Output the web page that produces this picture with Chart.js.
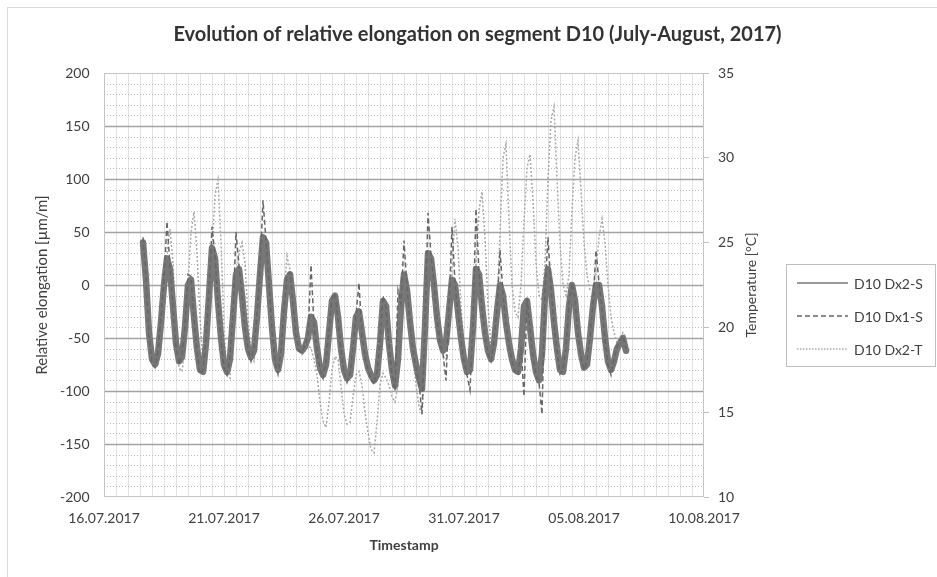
<!DOCTYPE html>
<html>
<head>
<meta charset="utf-8">
<script src="https://cdn.jsdelivr.net/npm/chart.js@4.4.0/dist/chart.umd.min.js"></script>
<style>
  html, body { margin: 0; padding: 0; background: #fff; overflow: hidden; }
  #wrap { position: relative; width: 937px; height: 577px; overflow: hidden; font-family: Lato, "Open Sans", sans-serif; }
  #frame { position: absolute; left: 7px; top: 7px; width: 2000px; height: 2000px; border: 1px solid #d9d9d9; box-sizing: border-box; }
  canvas { position: absolute; left: 0; top: 0; }
  #legend { position: absolute; left: 786px; top: 264px; width: 150px; height: 103px; border: 1px solid #bfbfbf; box-sizing: border-box; background: #fff; }
  .li { position: absolute; left: 10px; height: 16px; display: flex; align-items: center; font-size: 14px; color: #404040; white-space: nowrap; }
  .li svg { margin-right: 6px; }
  #rtitle { position: absolute; left: 750px; top: 285px; transform: translate(-50%, -50%) rotate(-90deg); font-size: 14px; color: #404040; white-space: nowrap; }
</style>
</head>
<body>
<div id="wrap">
  <div id="frame"></div>
  <canvas id="c" width="937" height="577"></canvas>
  <div id="rtitle">Temperature [°C]</div>
  <div id="legend"></div>
</div>
<script>
// ---- data ----
const chartTitle = 'Evolution of relative elongation on segment D10 (July-August, 2017)';
const seriesNames = ['D10 Dx2-S', 'D10 Dx1-S', 'D10 Dx2-T'];
const xTickLabels = ['16.07.2017', '21.07.2017', '26.07.2017', '31.07.2017', '05.08.2017', '10.08.2017'];
// samples every 3 hours, first sample 17.07.2017 15:00 (days since 16.07.2017 00:00)
const firstSampleDay = 1.625;
const sampleStepDays = 0.125;

// relative elongation D10 Dx2-S [µm/m]
const dx2S = [
  40, 5, -45, -70, -75, -65, -35, 0,
  25, 15, -20, -55, -72, -68, -40, 0,
  5, -30, -60, -80, -82, -55, -10, 35,
  25, -15, -50, -75, -82, -70, -30, 10,
  15, -10, -40, -60, -68, -62, -30, 10,
  45, 40, 0, -40, -70, -80, -65, -25,
  5, 10, -15, -45, -60, -62, -58, -50,
  -30, -35, -60, -78, -85, -75, -45, -15,
  -10, -30, -60, -80, -88, -85, -60, -30,
  -25, -45, -65, -78, -85, -90, -85, -55,
  -15, -20, -55, -80, -95, -70, -20, 10,
  -5, -35, -60, -75, -88, -98, -40, 30,
  25, 0, -30, -52, -62, -55, -25, 5,
  0, -25, -50, -70, -82, -80, -40, 15,
  10, -20, -45, -62, -70, -55, -25, 0,
  -10, -35, -55, -70, -80, -82, -60, -20,
  -15, -40, -65, -82, -90, -65, -10, 15,
  -5, -35, -60, -80, -82, -60, -20, 0,
  -15, -45, -65, -78, -75, -50, -20, 0,
  0, -20, -50, -72, -80, -72, -60, -55,
  -50, -62
];

// relative elongation D10 Dx1-S [µm/m]
const dx1S = [
  45, 8, -48, -74, -78, -62, -30, 5,
  60, 18, -22, -58, -75, -66, -38, 10,
  8, -32, -62, -84, -80, -52, -5, 55,
  28, -18, -52, -78, -85, -68, -28, 50,
  18, -8, -42, -62, -72, -60, -28, 15,
  80, 42, 2, -42, -72, -84, -62, -22,
  10, 12, -18, -48, -62, -64, -56, -48,
  19, -38, -62, -80, -88, -72, -42, -12,
  -8, -32, -62, -82, -92, -84, -58, -28,
  2, -48, -68, -80, -88, -94, -82, -52,
  -10, -22, -58, -84, -100, -5, -18, 42,
  -2, -38, -62, -78, -92, -122, -35, 68,
  28, 2, -32, -55, -65, -90, -22, 55,
  2, -28, -52, -72, -85, -99, -38, 72,
  12, -22, -48, -65, -72, -52, -22, 33,
  -8, -38, -58, -72, -82, -85, -58, -105,
  -12, -42, -68, -85, -92, -122, -5, 45,
  -2, -38, -62, -84, -80, -58, -18, 2,
  -12, -48, -68, -80, -72, -48, -18, 33,
  2, -22, -52, -75, -85, -70, -58, -52,
  -48, -60
];

// temperature D10 Dx2-T [°C]
const dx2T = [
  23.1, 22.5, 20.6, 19.1, 18.1, 17.8, 19.1, 21.9,
  24.4, 25.8, 23.8, 20.0, 17.6, 17.4, 18.8, 22.5,
  25.6, 26.8, 24.4, 20.6, 17.8, 17.5, 20.0, 24.4,
  27.8, 28.7, 25.0, 20.0, 17.2, 17.0, 19.4, 22.5,
  24.4, 25.0, 23.8, 20.6, 18.4, 18.0, 19.4, 21.9,
  23.8, 24.7, 23.4, 20.6, 18.4, 17.5, 18.4, 21.9,
  24.2, 23.4, 21.9, 20.3, 19.1, 18.4, 18.6, 18.9,
  18.8, 18.1, 17.2, 15.6, 14.5, 14.1, 15.6, 17.5,
  18.3, 18.1, 16.6, 14.9, 14.3, 14.4, 15.9, 17.2,
  17.4, 16.6, 15.0, 13.8, 12.8, 12.6, 14.4, 16.6,
  17.3, 17.0, 16.6, 15.9, 15.6, 16.6, 19.4, 21.6,
  22.2, 20.6, 18.4, 16.6, 15.3, 14.9, 17.5, 21.9,
  23.8, 23.4, 21.3, 19.4, 18.3, 18.1, 20.0, 23.8,
  26.4, 24.7, 21.3, 18.8, 17.5, 17.2, 19.4, 23.8,
  26.9, 28.0, 25.3, 21.3, 18.8, 18.8, 20.9, 25.6,
  30.0, 30.8, 26.3, 22.5, 20.9, 20.6, 22.5, 26.3,
  29.4, 30.2, 27.5, 23.8, 21.9, 21.6, 23.8, 28.8,
  32.2, 33.0, 28.8, 25.0, 22.5, 21.9, 23.1, 26.9,
  30.0, 31.0, 28.1, 25.0, 23.1, 22.2, 22.2, 23.4,
  25.3, 26.4, 25.0, 22.5, 20.6, 19.7, 19.1, 19.4,
  19.7, 19.4
];

// ---- build chart ----
const sampleDays = dx2S.map((_, i) => firstSampleDay + i * sampleStepDays);
const toPoints = arr => arr.map((v, i) => ({ x: sampleDays[i], y: v }));

const FONT = 'Lato, "Open Sans", sans-serif';
const TXT = '#404040';

const excelGrid = {
  id: 'excelGrid',
  beforeDatasetsDraw(chart) {
    const { ctx, chartArea: { left, right, top, bottom }, scales: { x, y } } = chart;
    ctx.save();
    ctx.lineWidth = 1;
    ctx.strokeStyle = '#e2e2e2';
    for (let d = 0.5; d < 25; d += 0.5) {
      const px = Math.round(x.getPixelForValue(d)) + 0.5;
      ctx.beginPath(); ctx.moveTo(px, top); ctx.lineTo(px, bottom); ctx.stroke();
    }
    ctx.setLineDash([1, 2]);
    ctx.strokeStyle = '#b8b8b8';
    for (let v = -190; v < 200; v += 10) {
      if (v % 50 === 0) continue;
      const py = Math.round(y.getPixelForValue(v)) + 0.5;
      ctx.beginPath(); ctx.moveTo(left, py); ctx.lineTo(right, py); ctx.stroke();
    }
    ctx.setLineDash([]);
    ctx.strokeStyle = '#a3a3a3';
    ctx.lineWidth = 1.5;
    for (let v = -150; v <= 150; v += 50) {
      const py = Math.round(y.getPixelForValue(v)) + 0.5;
      ctx.beginPath(); ctx.moveTo(left, py); ctx.lineTo(right, py); ctx.stroke();
    }
    ctx.lineWidth = 1;
    ctx.strokeStyle = '#c4c4c4';
    ctx.strokeRect(left + 0.5, top + 0.5, right - left - 1, bottom - top - 1);
    ctx.restore();
  }
};

new Chart(document.getElementById('c'), {
  type: 'line',
  data: {
    datasets: [
      { label: seriesNames[1], data: toPoints(dx1S), yAxisID: 'y', order: 1,
        borderColor: '#666666', borderWidth: 1.5, borderDash: [5, 3], pointRadius: 0, tension: 0 },
      { label: seriesNames[0], data: toPoints(dx2S), yAxisID: 'y', order: 2,
        borderColor: '#777777', borderWidth: 6.5, borderJoinStyle: 'round', borderCapStyle: 'round', pointRadius: 0, tension: 0 },
      { label: seriesNames[2], data: toPoints(dx2T), yAxisID: 'y2', order: 3,
        borderColor: '#a8a8a8', borderWidth: 1.5, borderDash: [2, 2], pointRadius: 0, tension: 0 }
    ]
  },
  options: {
    responsive: false,
    animation: false,
    events: [],
    layout: { padding: { left: 18, right: 0, top: 0, bottom: 0 } },
    plugins: {
      legend: { display: false },
      tooltip: { enabled: false },
      title: {
        display: true, text: chartTitle, color: '#333333',
        font: { family: FONT, size: 20, weight: 'bold' },
        padding: { top: 23, bottom: 26 }
      }
    },
    scales: {
      x: {
        type: 'linear', min: 0, max: 25,
        grid: { display: false, drawTicks: false },
        border: { display: false },
        ticks: { stepSize: 5, maxRotation: 0, autoSkip: false, padding: 13, color: TXT,
                 font: { family: FONT, size: 14 },
                 callback: v => xTickLabels[Math.round(v / 5)] },
        title: { display: true, text: 'Timestamp', color: TXT, font: { family: FONT, size: 14, weight: 'bold' },
                 padding: { top: 0, bottom: 23.6 } },
        afterFit: s => { s.height = 80; }
      },
      y: {
        position: 'left', min: -200, max: 200,
        grid: { display: false, drawTicks: false },
        border: { display: false },
        ticks: { stepSize: 50, padding: 14.5, color: TXT, font: { family: FONT, size: 14 } },
        title: { display: true, text: 'Relative elongation [µm/m]', color: TXT, font: { family: FONT, size: 15 },
                 padding: { top: 15, bottom: 0 } },
        afterFit: s => { s.width = 86; }
      },
      y2: {
        position: 'right', min: 10, max: 35,
        grid: { display: true, drawOnChartArea: false, drawTicks: true, tickLength: 5, color: '#bfbfbf' },
        border: { display: false },
        ticks: { stepSize: 5, padding: 9, color: TXT, font: { family: FONT, size: 14 } },
        afterFit: s => { s.width = 233; }
      }
    }
  },
  plugins: [excelGrid]
});

// ---- legend (HTML) ----
const legendStyles = [
  { dash: '', color: '#777777', width: 1.5 },
  { dash: '5,3', color: '#666666', width: 1.5 },
  { dash: '1.5,1.5', color: '#a8a8a8', width: 1.5 }
];
const legendTops = [10, 43, 76];
const legend = document.getElementById('legend');
seriesNames.forEach((name, i) => {
  const st = legendStyles[i];
  const el = document.createElement('div');
  el.className = 'li';
  el.style.top = legendTops[i] + 'px';
  el.innerHTML = '<svg width="51" height="4"><line x1="0" y1="2" x2="51" y2="2" stroke="' + st.color +
    '" stroke-width="' + st.width + '"' + (st.dash ? ' stroke-dasharray="' + st.dash + '"' : '') + '/></svg>' +
    '<span>' + name + '</span>';
  legend.appendChild(el);
});
</script>
</body>
</html>
